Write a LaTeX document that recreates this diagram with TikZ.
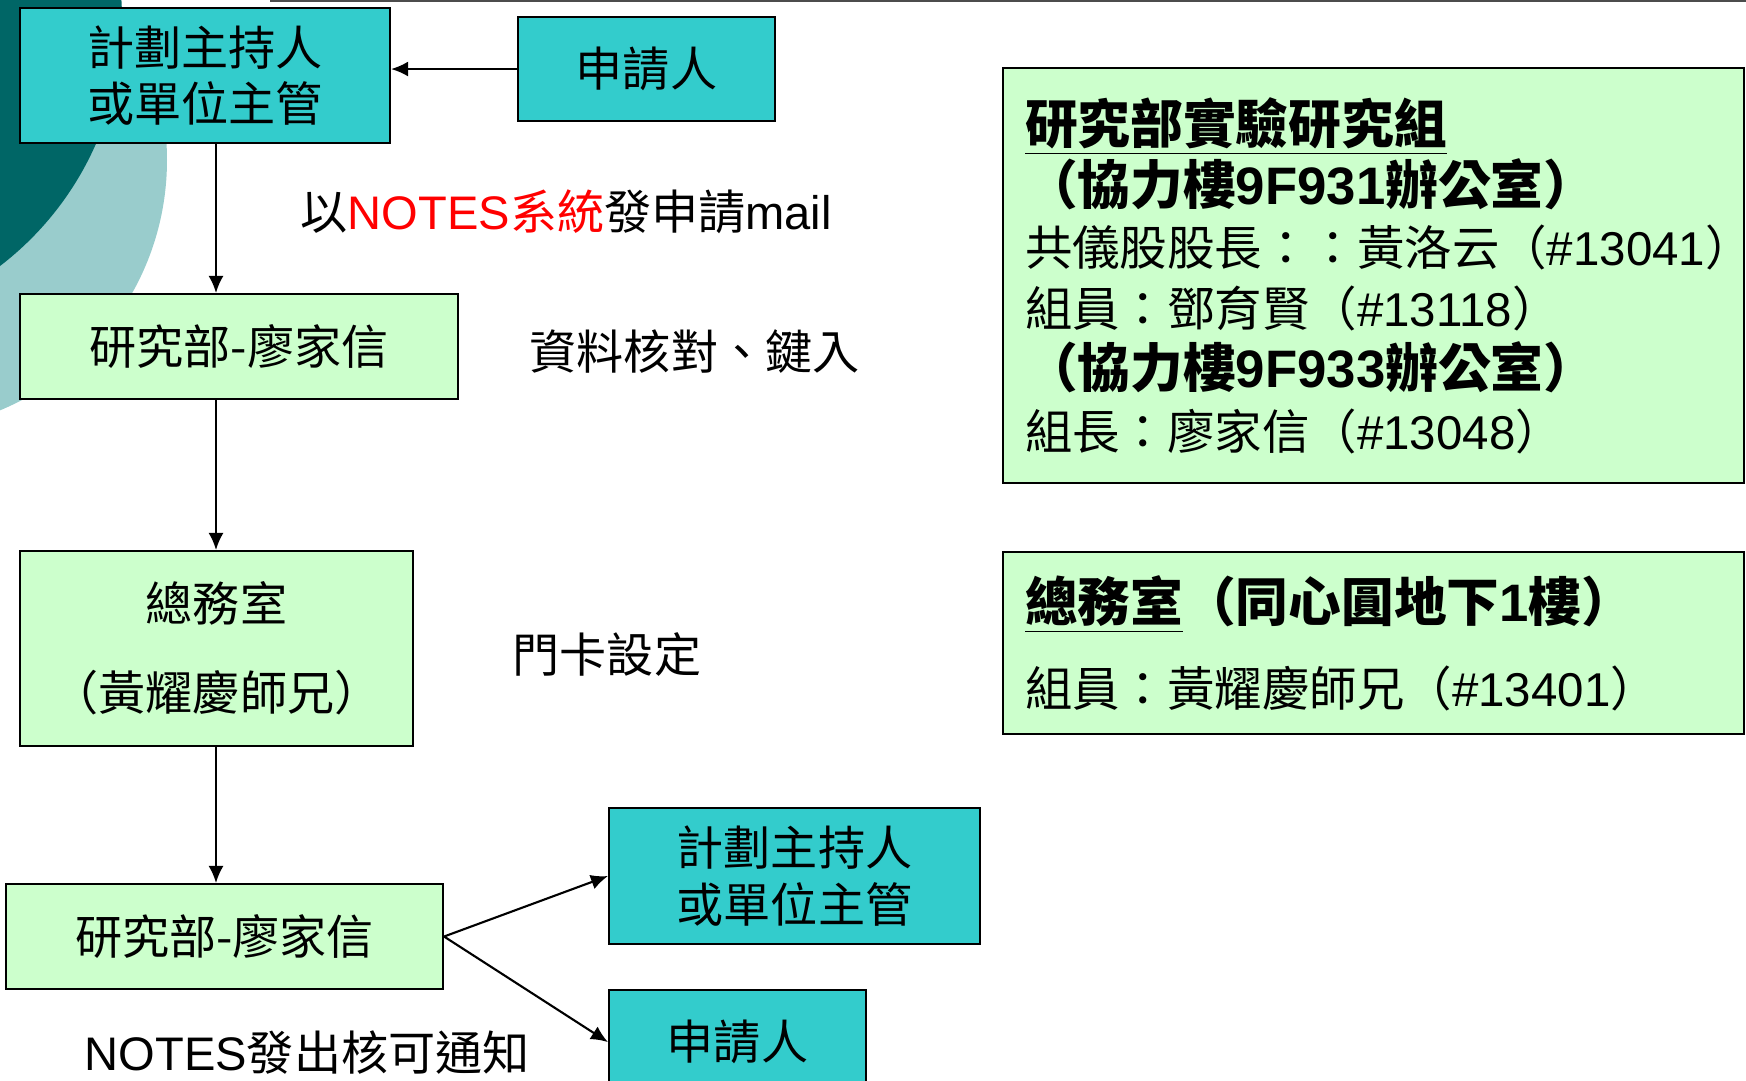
\documentclass[tikz,border=0pt]{standalone}
\usepackage{fontspec}
\setmainfont{Liberation Sans}
\newfontfamily\cjk{Noto Sans CJK TC}
\usepackage{tikz}
\usetikzlibrary{positioning}
\usetikzlibrary{calc}
\usetikzlibrary{arrows.meta}

\definecolor{boxteal}{HTML}{33CCCC}
\definecolor{boxmint}{HTML}{CCFFCC}
\definecolor{deepteal}{HTML}{006666}
\definecolor{paleteal}{HTML}{99CCCC}
\newcommand{\latn}[1]{{\rmfamily #1}}

\begin{document}
\begin{tikzpicture}[
    x=0.1mm, y=-0.1mm,          % one unit = one pixel of the slide
    node distance=6mm and 20mm, % Global setup of box spacing
    ]
% -------------------------------------------------
\tikzset{
  base/.style={draw, line width=0.6pt, align=center, font=\cjk\fontsize{13.4}{16}\selectfont},
  who/.style={base, rectangle, fill=boxteal},
  desk/.style={base, rectangle, fill=boxmint},
  info/.style={draw, line width=0.6pt, rectangle, fill=boxmint, anchor=north west,
               align=left, inner xsep=2.2mm, text width=69.7mm, minimum width=74.1mm},
  note/.style={anchor=west, inner sep=0pt, font=\cjk\fontsize{13.4}{16}\selectfont},
  line/.style={draw, line width=0.6pt, -{Latex[length=1.7mm, width=1.5mm]}}
}
% -------------------------------------------------
% Slide frame
\useasboundingbox (0,0) rectangle (1746,1080);
\clip (0,0) rectangle (1746,1080);
\fill [paleteal] (-104,160) circle [radius=27.1mm];
\fill [deepteal] (-189,19) circle [radius=31.1mm];
\draw [line width=0.8pt, black!70] (270,1) -- (1746,1);

% -------------------------------------------------
% Placing the nodes

\node [who, minimum width=37mm, minimum height=13.5mm] (lead) at (205,75.5) {計劃主持人\\或單位主管};
\node [who, minimum width=25.7mm, minimum height=10.4mm] (appl) at (646.5,69) {申請人};
\node [desk, minimum width=43.8mm, minimum height=10.5mm] (rsch) at (239,346.5) {研究部-廖家信};
\node [desk, minimum width=39.3mm, minimum height=19.5mm] (admin) at (216.5,648.5) {總務室\\[3.3mm]（黃耀慶師兄）};
\node [desk, minimum width=43.7mm, minimum height=10.5mm] (rsch2) at (224.5,936.5) {研究部-廖家信};
\node [who, minimum width=37.1mm, minimum height=13.6mm] (lead2) at (794.5,876) {計劃主持人\\或單位主管};
\node [who, minimum width=25.7mm, minimum height=10.4mm, anchor=north] (appl2) at (737.5,989) {申請人};

\node [note] (mailtxt) at (300,212) {以\latn{\color{red}NOTES}{\color{red}系統}發申請\latn{mail}};
\node [note] (chktxt) at (529,352) {資料核對、鍵入};
\node [note] (cardtxt) at (512,654) {門卡設定};
\node [note] (okaytxt) at (84,1053) {\latn{NOTES}發出核可通知};

\node [info, minimum height=41.5mm, font=\cjk\fontsize{13.5}{17.4}\selectfont] (lab) at (1002,67) {%
  {\fontsize{15}{17.4}\selectfont\bfseries\underline{研究部實驗研究組}}\\
  {\fontsize{15}{17.4}\selectfont\bfseries（協力樓\latn{9F931}辦公室）}\\
  共儀股股長：：黃洛云（\latn{\#13041}）\\
  組員：鄧育賢（\latn{\#13118}）\\
  {\fontsize{15}{17.4}\selectfont\bfseries（協力樓\latn{9F933}辦公室）}\\
  組長：廖家信（\latn{\#13048}）};
\node [info, minimum height=18.2mm, font=\cjk\fontsize{13.5}{24.2}\selectfont] (office) at (1002,551) {%
  {\fontsize{15}{24.2}\selectfont\bfseries\underline{總務室}（同心圓地下\latn{1}樓）}\\
  組員：黃耀慶師兄（\latn{\#13401}）};

% -------------------------------------------------
% Connectors
\coordinate (spine) at (216,0);
\path [line] (appl.west) -- (appl.west -| lead.east);
\path [line] (lead.south -| spine) -- (rsch.north -| spine);
\path [line] (rsch.south -| spine) -- (admin.north -| spine);
\path [line] (admin.south -| spine) -- (rsch2.north -| spine);
\path [line] (rsch2.east) -- (lead2.west);
\path [line] (rsch2.east) -- (appl2.west);

\end{tikzpicture}
\end{document}
